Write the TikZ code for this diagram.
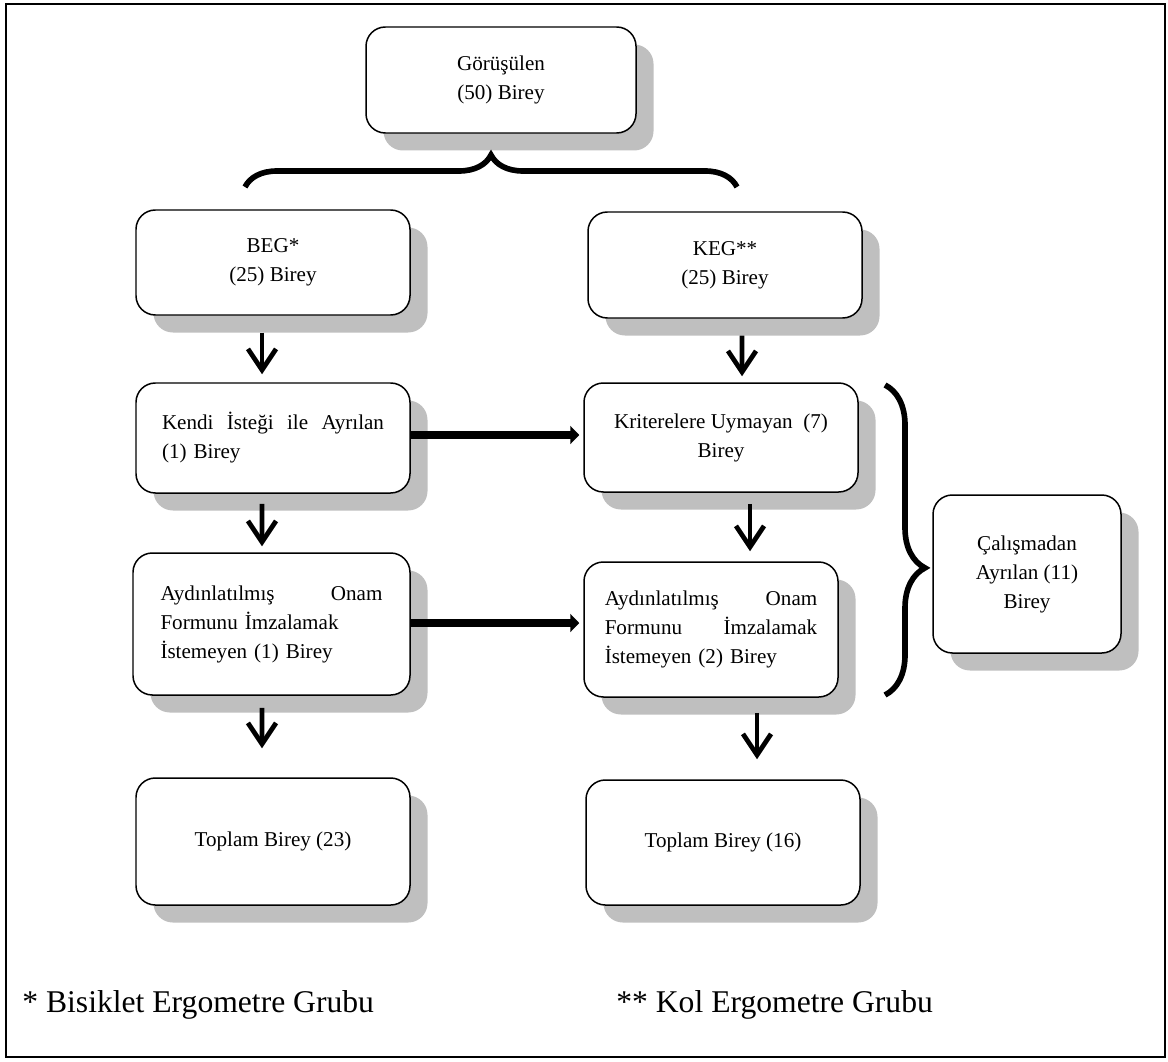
\documentclass[tikz,border=0pt]{standalone}
\usepackage{fontspec}
\setmainfont{Liberation Serif}
\usetikzlibrary{arrows.meta,shadows,decorations.pathreplacing}
\definecolor{shadowgray}{RGB}{191,191,191}
\tikzset{
  box/.style={rectangle,rounded corners=11pt,draw=black,line width=0.85pt,
              fill=white,minimum width=#1,align=center,
              font=\fontsize{12}{16.5}\selectfont,
              drop shadow={shadow xshift=0.35cm,shadow yshift=-0.35cm,
                           fill=shadowgray,opacity=1}},
  box/.default=5.48cm,
  downarrow/.style={-{Straight Barb[length=12pt,width=16pt]},line width=2.7pt},
  sidearrow/.style={-{Triangle[length=5pt,width=10pt]},line width=4.3pt},
  bracket/.style={decorate,decoration={brace,amplitude=#1},line width=3.2pt},
  note/.style={anchor=base west,inner sep=0pt,font=\fontsize{18}{22}\selectfont},
}
\begin{document}
\begin{tikzpicture}
  \useasboundingbox (0,0) rectangle (23.36,-21.22);
  \draw[line width=1.4pt] (0.12,-0.08) rectangle (23.3,-21.14);

  \node[box=5.4cm,minimum height=2.12cm] (gorus) at (10.02,-1.6) {Görüşülen\\(50) Birey};
  \node[box,minimum height=2.1cm] (beg) at (5.46,-5.25) {BEG*\\(25) Birey};
  \node[box,minimum height=2.12cm] (keg) at (14.5,-5.3) {KEG**\\(25) Birey};
  \node[box,minimum height=2.2cm,text width=4.44cm,align=left] (kendi) at (5.46,-8.76)
    {Kendi\hfill İsteği\hfill ile\hfill Ayrılan\\(1) Birey};
  \node[box,minimum height=2.18cm] (kriter) at (14.42,-8.75) {Kriterelere Uymayan\ \ (7)\\Birey};
  \node[box=5.54cm,minimum height=2.84cm,text width=4.44cm,align=left] (aydinL) at (5.43,-12.48)
    {Aydınlatılmış\hfill Onam\\Formunu İmzalamak\\İstemeyen (1) Birey};
  \node[box=5.08cm,minimum height=2.7cm,text width=4.25cm,align=left] (aydinR) at (14.22,-12.59)
    {Aydınlatılmış\hfill Onam\\Formunu\hfill İmzalamak\\İstemeyen (2) Birey};
  \node[box=3.76cm,minimum height=3.16cm] (calis) at (20.54,-11.48) {Çalışmadan\\Ayrılan (11)\\Birey};
  \node[box,minimum height=2.54cm] (toplamL) at (5.46,-16.83) {Toplam Birey (23)};
  \node[box,minimum height=2.5cm] (toplamR) at (14.46,-16.85) {Toplam Birey (16)};

  \coordinate (braceL) at (4.9,-3.74);
  \coordinate (braceR) at (14.74,-3.74);
  \coordinate (braceT) at (17.7,-7.7);
  \coordinate (braceB) at (17.7,-13.9);
  \draw[bracket=0.64cm] (braceL) -- (braceR);
  \draw[bracket=0.8cm,decoration={aspect=0.59}] (braceT) -- (braceB);

  \draw[downarrow] ([shift={(-0.22,-0.34)}]beg.south) -- ([shift={(-0.22,0.16)}]kendi.north);
  \draw[downarrow] ([shift={(0.34,-0.34)}]keg.south) -- ([shift={(0.42,0.12)}]kriter.north);
  \draw[downarrow] ([shift={(-0.22,-0.2)}]kendi.south) -- ([shift={(-0.19,0.12)}]aydinL.north);
  \draw[downarrow] ([shift={(0.58,-0.22)}]kriter.south) -- ([shift={(0.78,0.2)}]aydinR.north);
  \draw[downarrow] ([shift={(-0.19,-0.24)}]aydinL.south) -- ([shift={(-0.22,0.58)}]toplamL.north);
  \draw[downarrow] ([shift={(0.92,-0.3)}]aydinR.south) -- ([shift={(0.68,0.4)}]toplamR.north);

  \draw[sidearrow] ([yshift=0.06cm]kendi.east) -- ([shift={(-0.08,0.05)}]kriter.west);
  \draw[sidearrow] ([yshift=0.02cm]aydinL.east) -- ([shift={(-0.08,0.13)}]aydinR.west);

  \node[note] (notBEG) at (0.44,-20.24) {* Bisiklet Ergometre Grubu};
  \node[note] (notKEG) at (12.32,-20.24) {** Kol Ergometre Grubu};
\end{tikzpicture}
\end{document}
